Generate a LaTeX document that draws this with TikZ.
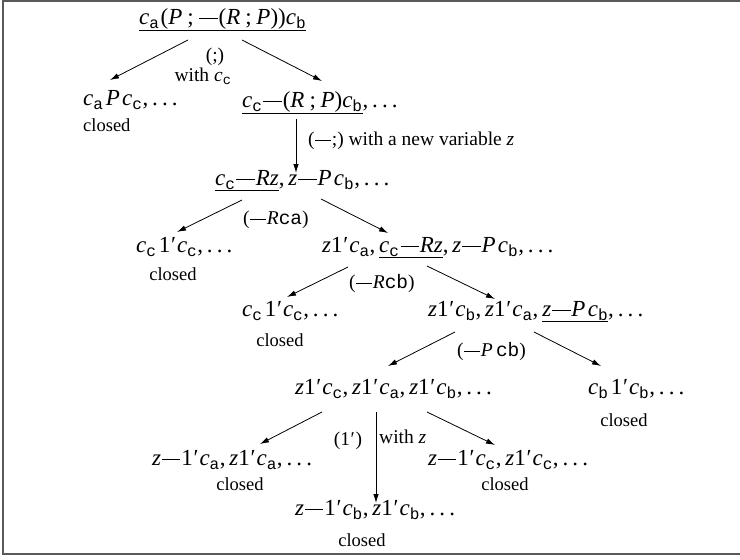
\documentclass[tikz,border=0pt]{standalone}
\usepackage{fontspec}
\setmainfont{Liberation Serif}
\setmonofont{Liberation Mono}
\usetikzlibrary{arrows.meta,calc}
\newcommand\vi[1]{\textit{#1}}
\newcommand\sbt[1]{\textsubscript{\ttfamily #1}}
\newcommand\Ca{\textit{c}\sbt{a}}
\newcommand\Cb{\textit{c}\sbt{b}}
\newcommand\Cc{\textit{c}\sbt{c}}
\newcommand\mn{\kern0.04em\rule[0.24em]{0.8em}{0.045em}\kern0.04em}
\newcommand\pr{\kern0.03em′\kern0.04em}
\newcommand\dts{.\kern0.18em.\kern0.18em.}
\newcommand\sem{\kern0.22em;\kern0.2em}
\begin{document}
\begin{tikzpicture}[x=1pt,y=-1pt,
  every node/.style={inner sep=0pt,font=\fontsize{19.5}{23}\selectfont},
  term/.style={anchor=mid west,font=\fontsize{23}{27}\selectfont},
  lab/.style={anchor=mid west},
  cl/.style={anchor=center,font=\fontsize{18.5}{22}\selectfont},
  arr/.style={-{Latex[length=9pt,width=5.5pt]},line width=0.8pt}]
\useasboundingbox (0,0) rectangle (740,560);
\draw[line width=1.8pt,color=black!65] (3,1) rectangle (741,554);

\node[term] (n0) at (139,22) {\underline{\Ca\kern0.05em(\vi{P}\sem\mn(\vi{R}\sem\vi{P}))\Cb}};
\node[anchor=center] (l0a) at (215,57) {(;)};
\node[anchor=center] (l0b) at (203,76) {with \vi{c}\sbt{c}};

\node[term] (n1) at (83,103) {\Ca\kern0.1em\vi{P}\kern0.1em\Cc,\,\dts};
\node[cl,anchor=west] (c1) at (83,125) {closed};

\node[term] (n2) at (242,105) {\underline{\Cc\mn(\vi{R}\sem\vi{P})\Cb},\,\dts};
\node[lab] (l2) at (308,143) {(\mn;) with a new variable \vi{z}};

\node[term] (n3) at (215,183) {\underline{\Cc\mn\vi{Rz}},\,\vi{z}\mn\vi{P}\kern0.1em\Cb,\,\dts};
\node[lab] (l3) at (243,222) {(\mn\vi{R}\texttt{ca})};

\node[term] (n4) at (136,250) {\Cc\kern0.1em1\pr\Cc,\,\dts};
\node[cl] (c4) at (173,274) {closed};

\node[term] (n5) at (322,250) {\vi{z}1\pr\Ca,\,\underline{\Cc\mn\vi{Rz}},\,\vi{z}\mn\vi{P}\kern0.1em\Cb,\,\dts};
\node[lab] (l5) at (349,286) {(\mn\vi{R}\texttt{cb})};

\node[term] (n6) at (242,314) {\Cc\kern0.1em1\pr\Cc,\,\dts};
\node[cl] (c6) at (280,340) {closed};

\node[term] (n7) at (428,314) {\vi{z}1\pr\Cb,\,\vi{z}1\pr\Ca,\,\underline{\vi{z}\mn\vi{P}\kern0.1em\Cb},\,\dts};
\node[lab] (l7) at (457,354) {(\mn\vi{P}\,\texttt{cb})};

\node[term] (n8) at (295,392) {\vi{z}1\pr\Cc,\,\vi{z}1\pr\Ca,\,\vi{z}1\pr\Cb,\,\dts};
\node[term] (n9) at (588,392) {\Cb\kern0.1em1\pr\Cb,\,\dts};
\node[cl] (c9) at (624,420) {closed};

\node[anchor=center] (l8a) at (348,441) {(1\pr)};
\node[lab] (l8b) at (379,441) {with \vi{z}};

\node[term] (n10) at (152,463) {\vi{z}\mn1\pr\Ca,\,\vi{z}1\pr\Ca,\,\dts};
\node[cl] (c10) at (240,484) {closed};
\node[term] (n12) at (428,463) {\vi{z}\mn1\pr\Cc,\,\vi{z}1\pr\Cc,\,\dts};
\node[cl] (c12) at (505,484) {closed};
\node[term] (n11) at (295,513) {\vi{z}\mn1\pr\Cb,\,\vi{z}1\pr\Cb,\,\dts};
\node[cl] (c11) at (362,540) {closed};

\draw[arr] ($(n0.mid west)+(49,18)$) -- ($(n1.mid west)+(27,-23)$);
\draw[arr] ($(n0.mid west)+(103,18)$) -- ($(n2.mid west)+(80,-24)$);
\draw[arr] ($(n2.mid west)+(54,14)$) -- ($(n3.mid west)+(81,-10)$);
\draw[arr] ($(n3.mid west)+(27,17)$) -- ($(n4.mid west)+(41,-18)$);
\draw[arr] ($(n3.mid west)+(106,16)$) -- ($(n5.mid west)+(66,-17)$);
\draw[arr] ($(n5.mid west)+(26,17)$) -- ($(n6.mid west)+(45,-17)$);
\draw[arr] ($(n5.mid west)+(105,16)$) -- ($(n7.mid west)+(67,-15)$);
\draw[arr] ($(n7.mid west)+(27,18)$) -- ($(n8.mid west)+(93,-26)$);
\draw[arr] ($(n7.mid west)+(106,18)$) -- ($(n9.mid west)+(13,-26)$);
\draw[arr] ($(n8.mid west)+(27,20)$) -- ($(n10.mid west)+(108,-19)$);
\draw[arr] ($(n8.mid west)+(81,20)$) -- ($(n11.mid west)+(81,-10)$);
\draw[arr] ($(n8.mid west)+(132,20)$) -- ($(n12.mid west)+(67,-18)$);
\end{tikzpicture}
\end{document}
